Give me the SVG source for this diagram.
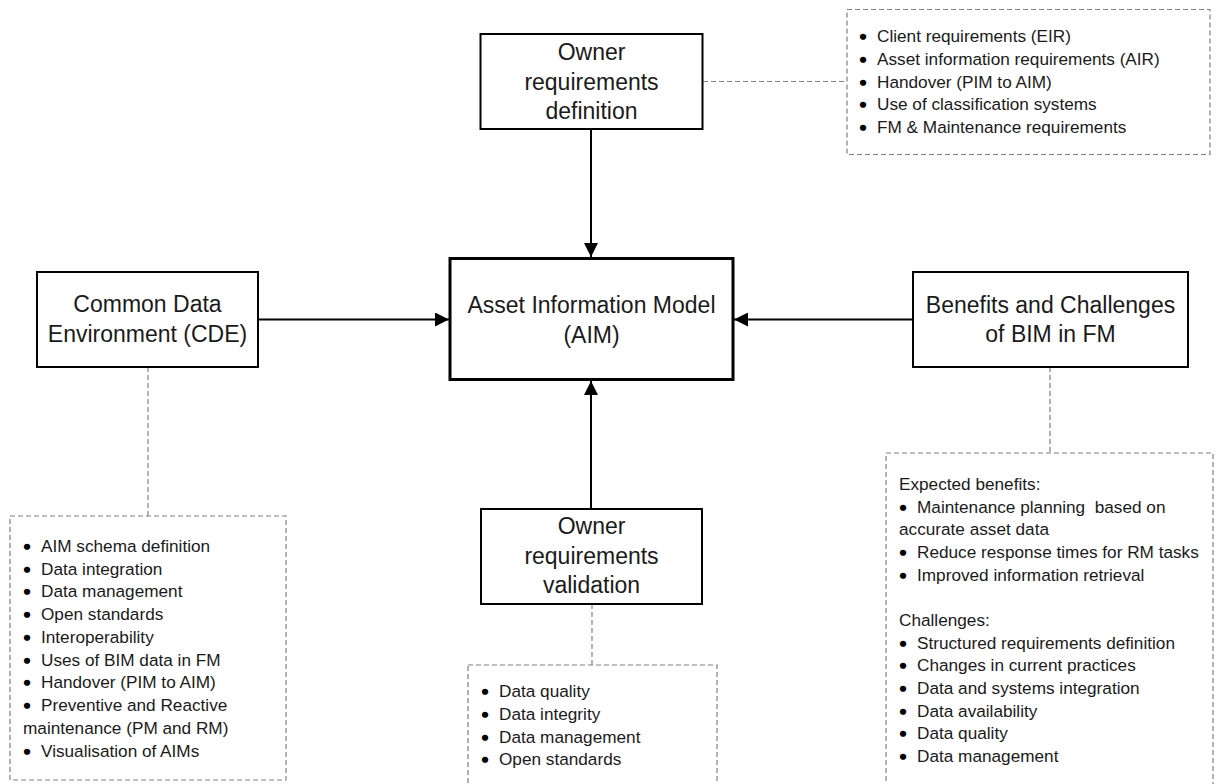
<svg xmlns="http://www.w3.org/2000/svg" width="1218" height="784" viewBox="0 0 1218 784">
  <style>
    .box { fill: #ffffff; stroke: #000000; stroke-width: 2; }
    .main { stroke-width: 3; }
    .note { fill: #ffffff; stroke: #808080; stroke-width: 1.2; stroke-dasharray: 5 3; }
    .link { fill: none; stroke: #808080; stroke-width: 1.2; stroke-dasharray: 5 3; }
    .arrow { fill: none; stroke: #000000; stroke-width: 2; marker-end: url(#head); }
    .title { font-family: "Liberation Sans", Arial, sans-serif; font-size: 23px; fill: #1a1a1a; text-anchor: middle; }
    .item { font-family: "Liberation Sans", Arial, sans-serif; font-size: 17.2px; fill: #1a1a1a; white-space: pre; }
    .dot { fill: #000000; stroke: #000000; stroke-width: 1.6; stroke-linejoin: round; }
  </style>
  <defs>
    <marker id="head" viewBox="0 0 14 14" refX="14" refY="7" markerWidth="14" markerHeight="14" markerUnits="userSpaceOnUse" orient="auto">
      <path d="M0,0 L14,7 L0,14 Z" fill="#000000"/>
    </marker>
  </defs>
  <rect width="1218" height="784" fill="#ffffff"/>

  <!-- connectors -->
  <g id="connectors">
    <line class="arrow" x1="591" y1="129" x2="591" y2="257"/>
    <line class="arrow" x1="591" y1="509" x2="591" y2="381"/>
    <line class="arrow" x1="258" y1="319.5" x2="449" y2="319.5"/>
    <line class="arrow" x1="913" y1="319.5" x2="734" y2="319.5"/>
    <line class="link" x1="703" y1="81.5" x2="847" y2="81.5"/>
    <line class="link" x1="148" y1="367" x2="148" y2="516"/>
    <line class="link" x1="592" y1="604" x2="592" y2="665"/>
    <line class="link" x1="1050" y1="367" x2="1050" y2="453"/>
  </g>

  <!-- central model -->
  <g id="aim">
    <rect class="box main" x="450" y="258.5" width="283" height="121"/>
    <text class="title" x="591.5" y="313">Asset Information Model</text>
    <text class="title" x="591.5" y="343">(AIM)</text>
  </g>

  <g id="owner-definition">
    <rect class="box" x="480.5" y="34" width="222" height="95"/>
    <text class="title" x="591.5" y="60">Owner</text>
    <text class="title" x="591.5" y="89.5">requirements</text>
    <text class="title" x="591.5" y="119">definition</text>
  </g>

  <g id="owner-validation">
    <rect class="box" x="481" y="509" width="221" height="95"/>
    <text class="title" x="591.5" y="534">Owner</text>
    <text class="title" x="591.5" y="563.5">requirements</text>
    <text class="title" x="591.5" y="593">validation</text>
  </g>

  <g id="cde">
    <rect class="box" x="37" y="272" width="221" height="95"/>
    <text class="title" x="147.5" y="312">Common Data</text>
    <text class="title" x="147.5" y="342">Environment (CDE)</text>
  </g>

  <g id="benefits">
    <rect class="box" x="913" y="272" width="275" height="95"/>
    <text class="title" x="1050.5" y="312.5">Benefits and Challenges</text>
    <text class="title" x="1050.5" y="342">of BIM in FM</text>
  </g>

  <!-- notes; bullet glyphs are thickened with a stroke -->
  <g id="owner-definition-notes">
    <rect class="note" x="847" y="9.5" width="363" height="145"/>
    <text class="item" y="42"><tspan class="dot" x="860">•</tspan><tspan x="877">Client requirements (EIR)</tspan></text>
    <text class="item" y="65"><tspan class="dot" x="860">•</tspan><tspan x="877">Asset information requirements (AIR)</tspan></text>
    <text class="item" y="87.5"><tspan class="dot" x="860">•</tspan><tspan x="877">Handover (PIM to AIM)</tspan></text>
    <text class="item" y="110"><tspan class="dot" x="860">•</tspan><tspan x="877">Use of classification systems</tspan></text>
    <text class="item" y="133"><tspan class="dot" x="860">•</tspan><tspan x="877">FM &amp; Maintenance requirements</tspan></text>
  </g>

  <g id="cde-notes">
    <rect class="note" x="10" y="516" width="276" height="264"/>
    <text class="item" y="552"><tspan class="dot" x="24">•</tspan><tspan x="41">AIM schema definition</tspan></text>
    <text class="item" y="575"><tspan class="dot" x="24">•</tspan><tspan x="41">Data integration</tspan></text>
    <text class="item" y="597"><tspan class="dot" x="24">•</tspan><tspan x="41">Data management</tspan></text>
    <text class="item" y="620"><tspan class="dot" x="24">•</tspan><tspan x="41">Open standards</tspan></text>
    <text class="item" y="643"><tspan class="dot" x="24">•</tspan><tspan x="41">Interoperability</tspan></text>
    <text class="item" y="665.5"><tspan class="dot" x="24">•</tspan><tspan x="41">Uses of BIM data in FM</tspan></text>
    <text class="item" y="688"><tspan class="dot" x="24">•</tspan><tspan x="41">Handover (PIM to AIM)</tspan></text>
    <text class="item" y="711"><tspan class="dot" x="24">•</tspan><tspan x="41">Preventive and Reactive</tspan></text>
    <text class="item" x="23" y="733.5">maintenance (PM and RM)</text>
    <text class="item" y="756.5"><tspan class="dot" x="24">•</tspan><tspan x="41">Visualisation of AIMs</tspan></text>
  </g>

  <g id="validation-notes">
    <rect class="note" x="468" y="665" width="249" height="130"/>
    <text class="item" y="697"><tspan class="dot" x="482">•</tspan><tspan x="499">Data quality</tspan></text>
    <text class="item" y="720"><tspan class="dot" x="482">•</tspan><tspan x="499">Data integrity</tspan></text>
    <text class="item" y="742.5"><tspan class="dot" x="482">•</tspan><tspan x="499">Data management</tspan></text>
    <text class="item" y="765"><tspan class="dot" x="482">•</tspan><tspan x="499">Open standards</tspan></text>
  </g>

  <g id="benefits-notes">
    <rect class="note" x="886" y="453" width="327" height="345"/>
    <text class="item" x="899" y="490">Expected benefits:</text>
    <text class="item" y="512.5"><tspan class="dot" x="900">•</tspan><tspan x="917">Maintenance planning  based on</tspan></text>
    <text class="item" x="899" y="535">accurate asset data</text>
    <text class="item" y="558"><tspan class="dot" x="900">•</tspan><tspan x="917">Reduce response times for RM tasks</tspan></text>
    <text class="item" y="580.5"><tspan class="dot" x="900">•</tspan><tspan x="917">Improved information retrieval</tspan></text>
    <text class="item" x="899" y="626">Challenges:</text>
    <text class="item" y="648.5"><tspan class="dot" x="900">•</tspan><tspan x="917">Structured requirements definition</tspan></text>
    <text class="item" y="671"><tspan class="dot" x="900">•</tspan><tspan x="917">Changes in current practices</tspan></text>
    <text class="item" y="694"><tspan class="dot" x="900">•</tspan><tspan x="917">Data and systems integration</tspan></text>
    <text class="item" y="716.5"><tspan class="dot" x="900">•</tspan><tspan x="917">Data availability</tspan></text>
    <text class="item" y="739"><tspan class="dot" x="900">•</tspan><tspan x="917">Data quality</tspan></text>
    <text class="item" y="762"><tspan class="dot" x="900">•</tspan><tspan x="917">Data management</tspan></text>
  </g>
</svg>
